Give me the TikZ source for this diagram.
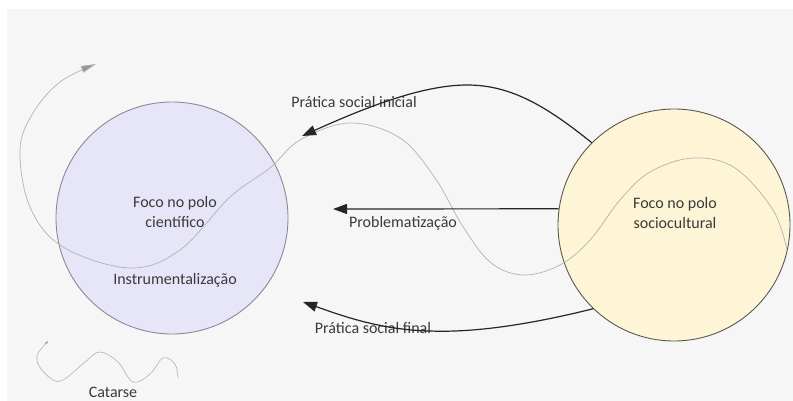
\documentclass[tikz,border=0pt]{standalone}
\usepackage{fontspec}
\setmainfont{Carlito}
\usetikzlibrary{arrows.meta}
\definecolor{bgpanel}{HTML}{F6F6F6}
\definecolor{scifill}{HTML}{E7E6F9}
\definecolor{scistroke}{HTML}{8A8A96}
\definecolor{socfill}{HTML}{FDF5D5}
\definecolor{socstroke}{HTML}{5A5850}
\definecolor{inktext}{HTML}{3A3A3A}
\definecolor{wavegray}{HTML}{B2B2B2}
\tikzset{
  pole/.style={circle, minimum size=232pt, inner sep=0pt, line width=0.9pt},
  label/.style={text=inktext, font=\fontsize{16}{20}\selectfont, inner sep=0pt, align=center},
  flow/.style={draw=black!85, line width=1.2pt, -{Triangle[length=14pt,width=10pt]}},
  wave/.style={draw=wavegray, line width=0.7pt},
}
\begin{document}
\begin{tikzpicture}[x=1pt, y=-1pt]
  \clip (0,0) rectangle (793,401);
  \useasboundingbox (0,0) rectangle (793,401);
  \fill[white] (0,0) rectangle (793,401);
  \fill[bgpanel] (7,9) rectangle (793,401);

  % the two poles
  \node[pole, fill=scifill, draw=scistroke] (sci) at (172,218) {};
  \node[pole, fill=socfill, draw=socstroke] (soc) at (674,225) {};

  % long wave running between the poles, ending in a grey tip
  \draw[wave, -{Triangle[length=15pt,width=7pt,fill=wavegray!85!black]}]
    plot[smooth, tension=0.6] coordinates {
      (787,250) (773,210) (735,168) (693,158) (650,172) (620,200) (590,240)
      (560,265) (523,275) (490,262) (462,225) (435,178) (400,138) (350,123)
      (300,140) (270,168) (230,197) (180,250) (130,268) (63,247) (30,207)
      (20,150) (33,113) (60,82) (96,64)};

  % small wave for the catharsis
  \draw[wave, line width=0.6pt, {Triangle[length=3pt,width=2.5pt,fill=black]}-]
    plot[smooth, tension=0.6] coordinates {
      (48,341) (37,360) (50,378) (63,380) (85,362) (100,352) (118,362)
      (133,382) (150,374) (163,358) (175,364) (178,378)};

  % texts inside the poles
  \node[label] (scitxt) at (175,212) {Foco no polo\\científico};
  \node[label] (instr) at (175,280) {Instrumentalização};
  \node[label] (soctxt) at (675,213) {Foco no polo\\sociocultural};
  \node[label] (cat) at (113,392) {Catarse};

  % arrows from the sociocultural pole
  \coordinate (tipA) at (302,136);
  \coordinate (tipB) at (333,209);
  \coordinate (tipC) at (303,302);

  \node[label] (lblA) at (354,102) {Prática social inicial};
  \node[label] (lblB) at (403,223) {Problematização};
  \node[label] (lblC) at (373,328) {Prática social final};

  \draw[flow] (soc.135) .. controls (545,105) and (510,85) .. (467,85)
                        .. controls (420,85) and (360,110) .. (tipA);
  \draw[flow] (soc.172) -- (tipB);
  \draw[flow] (soc.226) .. controls (540,322) and (480,333) .. (430,331)
                        .. controls (380,330) and (340,315) .. (tipC);
\end{tikzpicture}
\end{document}
